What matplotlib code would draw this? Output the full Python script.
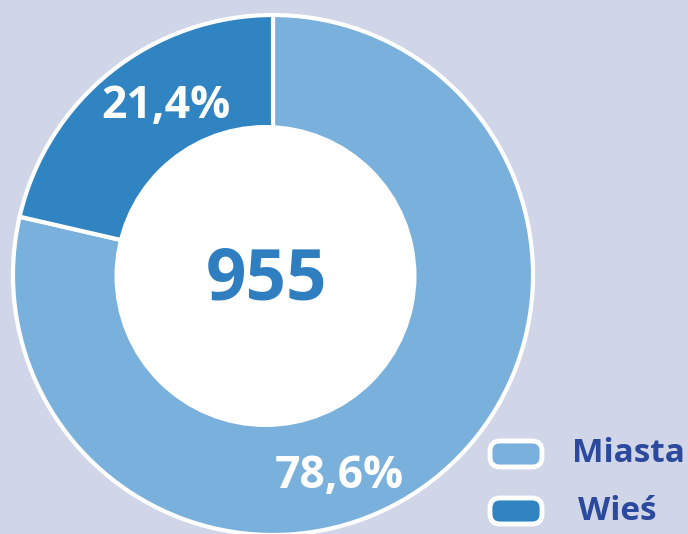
import matplotlib.pyplot as plt
from matplotlib.patches import FancyBboxPatch, Circle

labels = ["Miasta", "Wieś"]
shares = [78.6, 21.4]
total = 955
colors = ["#7ab0dc", "#2f84c1"]
pct_labels = ["78,6%", "21,4%"]

bg = "#d0d5e8"
plt.rcParams['font.family'] = ['Open Sans', 'DejaVu Sans']

fig = plt.figure(figsize=(6.88, 5.34), dpi=100)
fig.patch.set_facecolor(bg)
ax = fig.add_axes([0, 0, 1, 1])
ax.set_facecolor(bg)

# work in pixel-like units
H = 534
cx, cy, R = 273, H - 275, 260
wedges, _ = ax.pie(shares, colors=colors, startangle=90, counterclock=False,
                   center=(cx, cy), radius=R,
                   wedgeprops=dict(edgecolor="white", linewidth=3))
# white hole, slightly off-centre like the original
ax.add_patch(Circle((265.5, H - 276), 151, facecolor="white", edgecolor="none", zorder=3))
ax.set_xlim(0, 688)
ax.set_ylim(0, H)
ax.set_aspect("equal")
ax.axis("off")

# percentage labels
ax.text(339, H - 476, pct_labels[0], color="white", fontsize=32,
        fontweight="bold", ha="center", va="center", zorder=4)
ax.text(166, H - 106, pct_labels[1], color="white", fontsize=32,
        fontweight="bold", ha="center", va="center", zorder=4)

ax.text(267, H - 280, str(total), color="#2f7fc0", fontsize=51,
        fontweight="bold", ha="center", va="center", zorder=4)

# legend
for i, (lab, col) in enumerate(zip(labels, colors)):
    yc = H - (454 + 57 * i)
    box = FancyBboxPatch((490, yc - 13), 52, 26,
                         boxstyle="round,pad=0,rounding_size=10",
                         facecolor=col, edgecolor="white", linewidth=3.5, zorder=4)
    ax.add_patch(box)
    ax.text(572 + 6 * i, yc, lab, color="#2c4a9d", fontsize=24,
            fontweight="bold", ha="left", va="center", zorder=4)

fig.savefig("out.png", dpi=100, facecolor=bg)
